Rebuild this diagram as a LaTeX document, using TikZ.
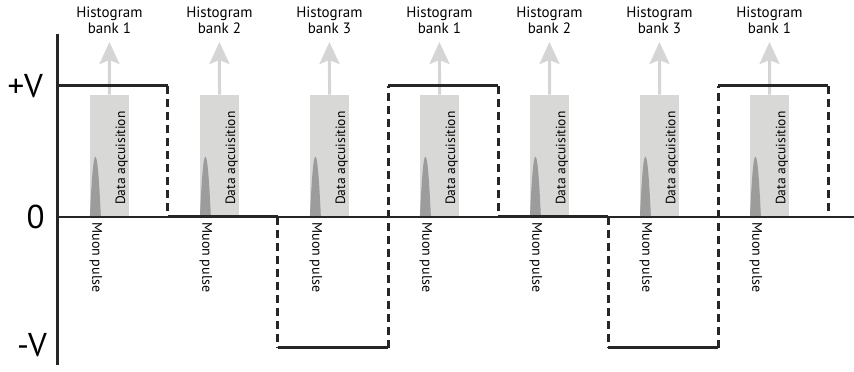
\documentclass[tikz,border=0pt]{standalone}
\usepackage{fontspec}
\setmainfont{PT Sans}
\usetikzlibrary{arrows.meta}

\definecolor{acqgray}{HTML}{D8D9D7}
\definecolor{pulsegray}{HTML}{9B9C9B}
\definecolor{arrowgray}{HTML}{D4D5D4}

\begin{document}
\begin{tikzpicture}[x=110pt,y=131pt]
            \tikzstyle{level}=[line width=3pt, black!85]
            \tikzstyle{jump}=[line width=3pt, black!85, dash pattern=on 8pt off 5pt]
            \tikzstyle{axis}=[line width=3pt, black!85]
            \tikzstyle{zeroline}=[line width=2.4pt, black!85]
            \tikzstyle{acqbox}=[rectangle, fill=acqgray, inner sep=0pt,
            minimum width=39pt, minimum height=122pt, anchor=south west]
            \tikzstyle{daqtext}=[rotate=90, anchor=west, inner sep=0pt,
            font=\fontsize{13.5}{15}\selectfont]
            \tikzstyle{muontext}=[rotate=-90, anchor=west, inner sep=0pt,
            font=\fontsize{14}{16}\selectfont]
            \tikzstyle{histtext}=[align=center, inner sep=0pt,
            font=\fontsize{15}{16}\selectfont]
            \tikzstyle{histarrow}=[line width=3pt, arrowgray, shorten >=8pt,
            -{Stealth[length=22pt, width=20pt, inset=4pt]}]
            \tikzstyle{levellabel}=[anchor=east, inner sep=0pt,
            font=\fontsize{33}{33}\selectfont]

            \useasboundingbox (-0.527,-1.176) rectangle (7.236,1.656);

            % acquisition windows, one per half period
            \foreach \k/\b in {0/1,1/2,2/3,3/1,4/2,5/3,6/1} {
                \node[acqbox] (acq\k) at (\k+0.29,0) {};
                \fill[pulsegray] (\k+0.29,0) .. controls (\k+0.31,0.36) and (\k+0.325,0.46)
                    .. (\k+0.34,0.46) .. controls (\k+0.355,0.46) and (\k+0.37,0.36)
                    .. (\k+0.39,0) -- cycle;
                \node[daqtext] (daq\k) at (\k+0.58,0.09) {Data aqcuisition};
                \node[muontext] (muon\k) at (\k+0.345,-0.04) {Muon pulse};
                \node[histtext] (hist\k) at (\k+0.4675,1.5) {Histogram\\bank \b};
                \draw[histarrow] (acq\k) -- (hist\k);
            }

            \coordinate (o) at (0,0);
            \coordinate (top) at (0,1.40);
            \coordinate (bot) at (0,-1.13);
            \coordinate (end) at (7.236,0);
            \draw[zeroline] (o) -- (end);
            \draw[axis] (top) -- (bot);

            \node[levellabel] (pv) at (-0.135,1) {+V};
            \node[levellabel] (zero) at (-0.12,0) {0};
            \node[levellabel] (mv) at (-0.10,-0.98) {-V};

            % square wave
            \coordinate (w0) at (0,1);
            \coordinate (w1a) at (1,1);
            \coordinate (w1b) at (1,0);
            \coordinate (w2a) at (2,0);
            \coordinate (w2b) at (2,-1);
            \coordinate (w3a) at (3,-1);
            \coordinate (w3b) at (3,1);
            \coordinate (w4a) at (4,1);
            \coordinate (w4b) at (4,0);
            \coordinate (w5a) at (5,0);
            \coordinate (w5b) at (5,-1);
            \coordinate (w6a) at (6,-1);
            \coordinate (w6b) at (6,1);
            \coordinate (w7a) at (7,1);
            \coordinate (w7b) at (7,0);

            \draw[level] (w0) -- (w1a);
            \draw[jump] (w1a) -- (w1b);
            \draw[level] (w1b) -- (w2a);
            \draw[jump] (w2a) -- (w2b);
            \draw[level] (w2b) -- (w3a);
            \draw[jump] (w3a) -- (w3b);
            \draw[level] (w3b) -- (w4a);
            \draw[jump] (w4a) -- (w4b);
            \draw[level] (w4b) -- (w5a);
            \draw[jump] (w5a) -- (w5b);
            \draw[level] (w5b) -- (w6a);
            \draw[jump] (w6a) -- (w6b);
            \draw[level] (w6b) -- (w7a);
            \draw[jump] (w7a) -- (w7b);
        \end{tikzpicture}
\end{document}
